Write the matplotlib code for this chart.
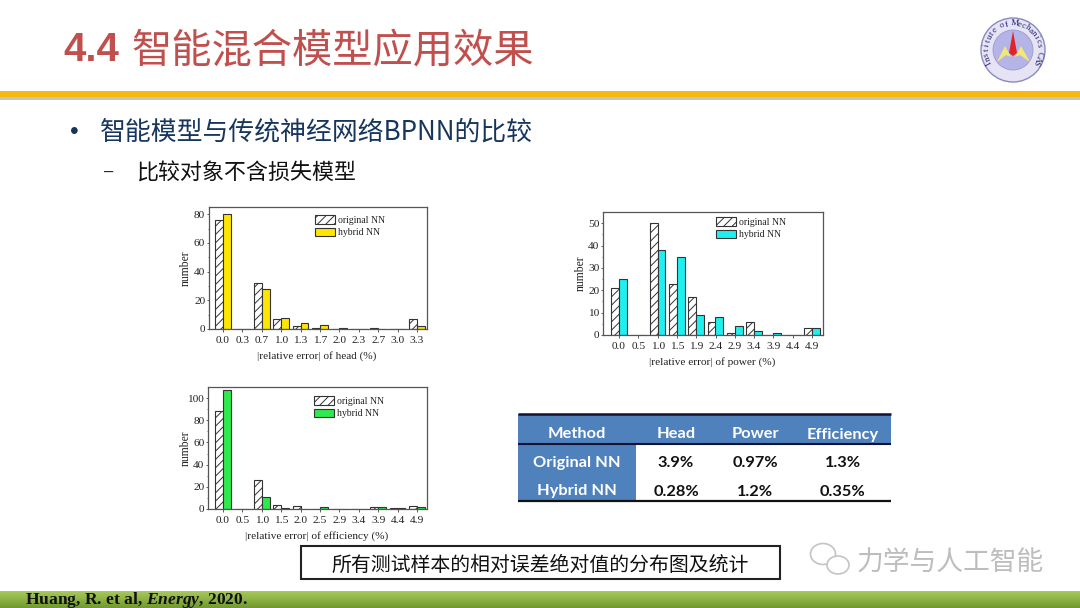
import numpy as np
import matplotlib
matplotlib.use("Agg")
import matplotlib.pyplot as plt
from matplotlib.patches import Rectangle, Circle, Polygon, Ellipse

plt.rcParams['mathtext.fontset'] = 'custom'
plt.rcParams['mathtext.rm'] = 'Liberation Serif:bold'
plt.rcParams['mathtext.it'] = 'Liberation Serif:bold:italic'
plt.rcParams['hatch.linewidth'] = 0.7
plt.rcParams['hatch.color'] = '#444444'

CJK = ['Noto Sans CJK SC', 'DejaVu Sans']
SERIF = 'Liberation Serif'

# ---------- data ----------
head_labels = ['0.0', '0.3', '0.7', '1.0', '1.3', '1.7', '2.0', '2.3', '2.7', '3.0', '3.3']
head_original = [76, 0, 32, 7, 2, 1, 0, 0, 1, 0, 7]
head_hybrid = [80, 0, 28, 8, 4, 3, 1, 0, 0, 0, 2]

power_labels = ['0.0', '0.5', '1.0', '1.5', '1.9', '2.4', '2.9', '3.4', '3.9', '4.4', '4.9']
power_original = [21, 0, 50, 23, 17, 6, 1, 6, 0, 0, 3]
power_hybrid = [25, 0, 38, 35, 9, 8, 4, 2, 1, 0, 3]

eff_labels = ['0.0', '0.5', '1.0', '1.5', '2.0', '2.5', '2.9', '3.4', '3.9', '4.4', '4.9']
eff_original = [88, 0, 26, 4, 3, 0, 0, 0, 2, 1, 3]
eff_hybrid = [107, 0, 11, 1, 0, 2, 0, 0, 2, 1, 2]

table_header = ['Method', 'Head', 'Power', 'Efficiency']
table_rows = [['Original NN', '3.9%', '0.97%', '1.3%'],
              ['Hybrid NN', '0.28%', '1.2%', '0.35%']]

W, H = 1080, 608
fig = plt.figure(figsize=(W / 100, H / 100), dpi=100, facecolor='white')

# ---------- slide background, in pixel coordinates ----------
bg = fig.add_axes([0, 0, 1, 1], zorder=0)
bg.set_xlim(0, W)
bg.set_ylim(H, 0)
bg.axis('off')

# header rule
bg.add_patch(Rectangle((0, 97), W, 2.5, fc='#c4c4c4', ec='none'))
bg.add_patch(Rectangle((0, 91), W, 6, fc='#f7b90f', ec='none'))

# footer gradient
grad = np.linspace(0, 1, 32).reshape(-1, 1, 1)
top = np.array([0.66, 0.79, 0.36]).reshape(1, 1, 3)
bot = np.array([0.44, 0.60, 0.18]).reshape(1, 1, 3)
bg.imshow(top * (1 - grad) + bot * grad, extent=(0, W, H, 591), aspect='auto', zorder=1)
bg.set_xlim(0, W)
bg.set_ylim(H, 0)
bg.text(25, 603.5, r"Huang, R. et al, $\mathit{Energy}$, 2020.", family=SERIF, weight='bold',
        fontsize=12.6, color='#111111', va='baseline', ha='left', zorder=2)

# titles
bg.text(63, 50, '4.4', family='Liberation Sans', weight='bold', fontsize=29,
        color='#c0504d', va='center', ha='left')
bg.text(131, 52, '智能混合模型应用效果', family=CJK, fontsize=29, weight='medium', color='#c0504d',
        va='center', ha='left')
bg.text(70, 132, '•', family='Liberation Sans', fontsize=18, color='#17365d', va='center', ha='left')
bg.text(100, 132, '智能模型与传统神经网络BPNN的比较', family=CJK, fontsize=18.6, weight='medium',
        color='#17365d', va='center', ha='left')
bg.text(104, 172, '–', family='Liberation Sans', fontsize=12, color='#222222', va='center', ha='left')
bg.text(136, 174, '比较对象不含损失模型', family=CJK, fontsize=15.8, weight='medium', color='#111111',
        va='center', ha='left')

# logo
cx, cy, R = 1013, 50, 32
bg.add_patch(Circle((cx, cy), R, fc='#e6e4f4', ec='#8a88c0', lw=1))
bg.add_patch(Circle((cx, cy), 20, fc='#b4b4e6', ec='#9a9ad0', lw=0.6))
bg.add_patch(Polygon([[1013, 31], [1017, 53], [1013, 56], [1009, 53]], fc='#e0242a', ec='none'))
bg.add_patch(Polygon([[1005, 46], [1011, 57], [1006, 55], [997, 62]], fc='#f2e878', ec='none'))
bg.add_patch(Polygon([[1021, 46], [1015, 57], [1020, 55], [1030, 62]], fc='#f2e878', ec='none'))
arc = 'Institute of Mechanics CAS'
angles = np.linspace(-118, 118, len(arc))
for ch, a in zip(arc, angles):
    t = np.deg2rad(a)
    bg.text(cx + 26.5 * np.sin(t), cy - 26.5 * np.cos(t), ch, family=SERIF, fontsize=6.6,
            color='#23236e', rotation=-a, rotation_mode='anchor', ha='center', va='center')

# table
tx0, tx1, ty0, ty1 = 518, 891, 414, 501
bg.add_patch(Rectangle((tx0, ty0), tx1 - tx0, 30, fc='#4f81bd', ec='none'))
bg.add_patch(Rectangle((tx0, ty0 + 30), 118, ty1 - ty0 - 30, fc='#4f81bd', ec='none'))
bg.plot([tx0, tx1], [ty0, ty0], color='#111133', lw=1.8, solid_capstyle='butt')
bg.plot([tx0, tx1], [ty0 + 30, ty0 + 30], color='#111133', lw=1.5, solid_capstyle='butt')
bg.plot([tx0, tx1], [ty1, ty1], color='#111111', lw=1.6, solid_capstyle='butt')
col_x = [577, 676, 755, 843]
row_y = [434.5, 463, 491.5]
for x, s in zip(col_x, table_header):
    bg.text(x, row_y[0], s, family='Lato', weight='bold', fontsize=11.8, color='white',
            ha='center', va='center')
for y, row in zip(row_y[1:], table_rows):
    for j, (x, s) in enumerate(zip(col_x, row)):
        bg.text(x, y, s, family='Lato', weight='bold', fontsize=11.8,
                color='white' if j == 0 else '#111111', ha='center', va='center')

# caption box
bg.add_patch(Rectangle((301, 546), 479, 33, fc='white', ec='#222222', lw=1.5))
bg.text(540, 565, '所有测试样本的相对误差绝对值的分布图及统计', family=CJK, fontsize=14.3,
        color='#111111', ha='center', va='center')

# watermark
wm = '#c4c4c4'
bg.add_patch(Ellipse((823, 554), 25, 21, fc='white', ec=wm, lw=1.2))
bg.add_patch(Ellipse((838, 565), 22, 18, fc='white', ec=wm, lw=1.2))
bg.text(857, 563, '力学与人工智能', family=CJK, fontsize=19.3, weight='light', color='#bdbdbd',
        ha='left', va='center')


# ---------- histograms ----------
def panel(box, first_px, step_px, labels, original, hybrid, color, ylim, yticks, xlabel,
          legend_px, ylabel_px, xlabel_py):
    left, top_, right, bottom = box
    ax = fig.add_axes([left / W, 1 - bottom / H, (right - left) / W, (bottom - top_) / H], zorder=2)
    ax.set_facecolor('none')
    pos = np.arange(len(labels))
    ax.bar(pos - 0.2, original, 0.41, facecolor='white', edgecolor='#333333', lw=0.8,
           hatch='////', label='original NN')
    ax.bar(pos + 0.2, hybrid, 0.41, facecolor=color, edgecolor='#333333', lw=0.8, label='hybrid NN')
    ax.set_xlim((left - first_px) / step_px, (right - first_px) / step_px)
    ax.set_ylim(*ylim)
    ax.set_xticks(pos, labels)
    ax.set_yticks(yticks)
    ax.set_yticks((np.array(yticks[:-1]) + np.array(yticks[1:])) / 2, minor=True)
    ax.tick_params(axis='x', which='major', length=2, width=0.6, pad=3, labelsize=8.2,
                   color='#444444', labelcolor='#222222')
    ax.tick_params(axis='y', which='major', length=1.5, width=0.6, pad=1.2, labelsize=8.2,
                   color='#444444', labelcolor='#222222')
    ax.tick_params(axis='y', which='minor', length=1, width=0.5, color='#444444')
    for lab in ax.get_xticklabels() + ax.get_yticklabels():
        lab.set_family(SERIF)
    for s in ax.spines.values():
        s.set_color('#555555')
        s.set_linewidth(0.9)
    bg.text(ylabel_px, (top_ + bottom) / 2, 'number', family=SERIF, fontsize=8.4, color='#222222',
            rotation=90, ha='center', va='center')
    bg.text((left + right) / 2 - 1, xlabel_py, xlabel, family=SERIF, fontsize=8.1, color='#222222',
            ha='center', va='center')
    ax.legend(loc='upper left', bbox_to_anchor=((legend_px[0] - left) / (right - left),
                                                1 - (legend_px[1] - top_) / (bottom - top_)),
              frameon=False, borderpad=0, borderaxespad=0, handlelength=2.05, handleheight=1.0,
              handletextpad=0.3, labelspacing=0.3,
              prop={'family': SERIF, 'size': 7}, labelcolor='#222222')
    return ax


panel((209, 207, 427, 329), 223, 19.4, head_labels, head_original, head_hybrid, '#ffe600',
      (0, 85), [0, 20, 40, 60, 80], '|relative error| of head (%)', (315, 215), 186, 356)
panel((603, 212, 823, 335), 619, 19.3, power_labels, power_original, power_hybrid, '#1ff0ef',
      (0, 55), [0, 10, 20, 30, 40, 50], '|relative error| of power (%)', (716, 217), 581, 362)
panel((208, 387, 427, 509), 223, 19.4, eff_labels, eff_original, eff_hybrid, '#2eea4c',
      (0, 110), [0, 20, 40, 60, 80, 100], '|relative error| of efficiency (%)', (314, 396), 186, 536)

fig.savefig('out.png', dpi=100, facecolor='white')
